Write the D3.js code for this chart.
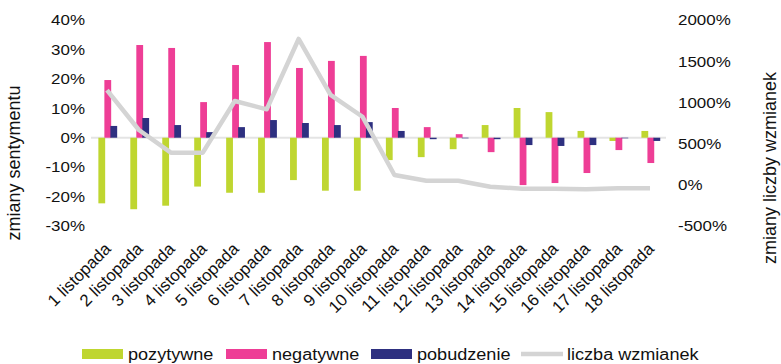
<!DOCTYPE html>
<html>
<head>
<meta charset="utf-8">
<script src="https://cdn.jsdelivr.net/npm/d3@7"></script>
<style>
  html, body { margin: 0; padding: 0; background: #fff; }
  svg { display: block; font-family: "Liberation Sans", Arial, sans-serif; }
</style>
</head>
<body>
<svg id="chart" width="781" height="364"></svg>
<script>
// Daily change in sentiment (left axis, %) and change in mention count (right axis, %)
const categories = [
  "1 listopada", "2 listopada", "3 listopada", "4 listopada", "5 listopada", "6 listopada",
  "7 listopada", "8 listopada", "9 listopada", "10 listopada", "11 listopada", "12 listopada",
  "13 listopada", "14 listopada", "15 listopada", "16 listopada", "17 listopada", "18 listopada"
];
const pozytywne  = [-22.3, -24.3, -23.1, -16.6, -18.7, -18.7, -14.4, -18.0, -18.0, -7.6, -6.6, -3.9, 4.3, 10.1, 8.7, 2.3, -1.1, 2.3];
const negatywne  = [19.6, 31.5, 30.5, 12.1, 24.7, 32.5, 23.7, 26.1, 27.8, 10.1, 3.6, 1.2, -4.9, -16.1, -15.4, -12.0, -4.2, -8.6];
const pobudzenie = [4.0, 6.7, 4.3, 1.9, 3.6, 6.0, 5.0, 4.3, 5.3, 2.3, -0.5, -0.2, -0.5, -2.5, -2.8, -2.5, -0.2, -1.1];
const liczbaWzmianek = [1150, 665, 390, 390, 1017, 916, 1770, 1090, 826, 119, 50, 50, -23, -47, -47, -55, -43, -43];

const leftTicks  = [40, 30, 20, 10, 0, -10, -20, -30];
const rightTicks = [2000, 1500, 1000, 500, 0, -500];

const seriesNames  = ["pozytywne", "negatywne", "pobudzenie"];
const seriesValues = [pozytywne, negatywne, pobudzenie];
const seriesColors = ["#bfd630", "#ee3e96", "#2e3080"];
const lineColor = "#d4d4d4";
const lineName = "liczba wzmianek";

const svg = d3.select("#chart");
const plot = { left: 91, right: 666, top: 20, bottom: 226 };
const stretch = 1.13;

const x = d3.scaleBand().domain(categories).range([plot.left, plot.right]).padding(0);
const yL = d3.scaleLinear().domain([-30, 40]).range([plot.bottom, plot.top]);
const yR = d3.scaleLinear().domain([-500, 2000]).range([plot.bottom, plot.top]);
const center = c => x(c) + x.bandwidth() / 2;

// zero baseline
svg.append("line")
  .attr("x1", plot.left).attr("x2", plot.right)
  .attr("y1", yL(0)).attr("y2", yL(0))
  .attr("stroke", "#e4e4e4").attr("stroke-width", 2);

// clustered, slightly overlapping bars
const barW = 6.8, barStep = 6.0, barStart = -8.6;
seriesValues.forEach((vals, s) => {
  svg.append("g").selectAll("rect")
    .data(vals.map((v, i) => ({ c: categories[i], v })))
    .join("rect")
    .attr("x", d => center(d.c) + barStart + s * barStep)
    .attr("width", barW)
    .attr("y", d => yL(Math.max(0, d.v)))
    .attr("height", d => Math.abs(yL(d.v) - yL(0)))
    .attr("fill", seriesColors[s]);
});

// mentions line on the secondary axis
const line = d3.line()
  .x((d, i) => center(categories[i]))
  .y(d => yR(d));
svg.append("path")
  .datum(liczbaWzmianek)
  .attr("d", line)
  .attr("fill", "none")
  .attr("stroke", lineColor)
  .attr("stroke-width", 4.5)
  .attr("stroke-linejoin", "round");

// left axis
const axL = svg.append("g")
  .attr("transform", `translate(${plot.left},0)`)
  .call(d3.axisLeft(yL).tickValues(leftTicks).tickSize(0).tickPadding(6).tickFormat(d => d + "%"));
axL.select(".domain").remove();
axL.selectAll("text")
  .attr("font-size", 15).attr("fill", "#111")
  .attr("font-family", "Liberation Sans, Arial, sans-serif")
  .attr("transform", `scale(${stretch},1)`)
  .attr("x", -6 / stretch);

// right axis
const axR = svg.append("g")
  .attr("transform", `translate(${plot.right},0)`)
  .call(d3.axisRight(yR).tickValues(rightTicks).tickSize(0).tickPadding(12).tickFormat(d => d + "%"));
axR.select(".domain").remove();
axR.selectAll("text")
  .attr("font-size", 15).attr("fill", "#111")
  .attr("font-family", "Liberation Sans, Arial, sans-serif")
  .attr("transform", `scale(${stretch},1)`)
  .attr("x", 12 / stretch);

// category labels
svg.append("g").selectAll("text")
  .data(categories)
  .join("text")
  .attr("transform", d => `translate(${center(d) + 5},250) rotate(-45)`)
  .attr("text-anchor", "end")
  .attr("font-size", 16.8)
  .attr("fill", "#111")
  .text(d => d);

// axis titles
svg.append("text")
  .attr("transform", `translate(20,163) rotate(-90)`)
  .attr("text-anchor", "middle")
  .attr("font-size", 18).attr("fill", "#111")
  .text("zmiany sentymentu");
svg.append("text")
  .attr("transform", `translate(776,168) rotate(-90)`)
  .attr("text-anchor", "middle")
  .attr("font-size", 18).attr("fill", "#111")
  .text("zmiany liczby wzmianek");

// legend
const legendY = 354;
const legendItems = [
  { name: seriesNames[0], color: seriesColors[0], type: "rect", x: 82 },
  { name: seriesNames[1], color: seriesColors[1], type: "rect", x: 226 },
  { name: seriesNames[2], color: seriesColors[2], type: "rect", x: 371 },
  { name: lineName, color: lineColor, type: "line", x: 521 }
];
const lg = svg.append("g");
legendItems.forEach(it => {
  if (it.type === "rect") {
    lg.append("rect").attr("x", it.x).attr("y", legendY - 5).attr("width", 41).attr("height", 10).attr("fill", it.color);
  } else {
    lg.append("line").attr("x1", it.x).attr("x2", it.x + 42).attr("y1", legendY).attr("y2", legendY)
      .attr("stroke", it.color).attr("stroke-width", 4.5);
  }
  lg.append("text")
    .attr("transform", `translate(${it.x + 46},${legendY}) scale(${stretch},1)`)
    .attr("dy", "0.35em")
    .attr("font-size", 16).attr("fill", "#111")
    .text(it.name);
});
</script>
</body>
</html>
